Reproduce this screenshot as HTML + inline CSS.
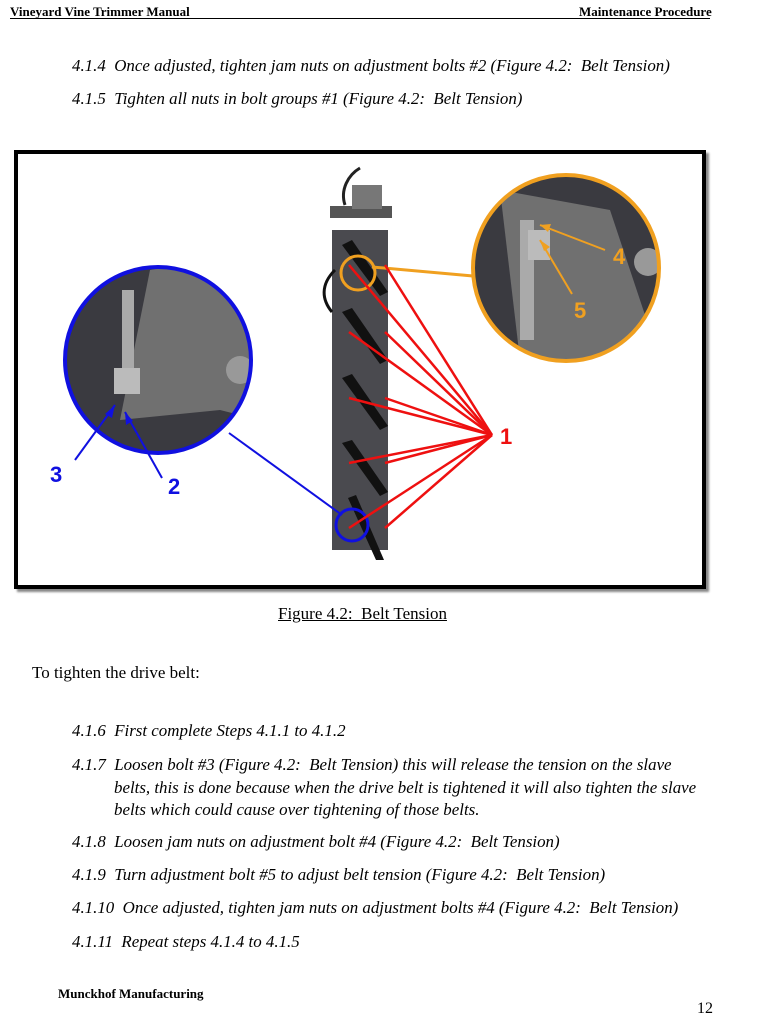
<!DOCTYPE html>
<html><head><meta charset="utf-8"><style>
body{margin:0;width:773px;height:1024px;background:#fff;position:relative;font-family:"Liberation Serif",serif;color:#000;overflow:hidden}
.a{position:absolute;white-space:nowrap}
.i{font-style:italic;font-size:16.9px}
</style></head><body>
<div class="a" style="left:10px;top:4px;font-size:13px;font-weight:bold">Vineyard Vine Trimmer Manual</div>
<div class="a" style="left:579px;top:4px;font-size:13px;font-weight:bold">Maintenance Procedure</div>
<div class="a" style="left:10px;top:18px;width:700px;border-top:1px solid #000"></div>
<div class="a i" style="left:72px;top:56px">4.1.4&nbsp; Once adjusted, tighten jam nuts on adjustment bolts #2 (Figure 4.2:&nbsp; Belt Tension)</div>
<div class="a i" style="left:72px;top:89px">4.1.5&nbsp; Tighten all nuts in bolt groups #1 (Figure 4.2:&nbsp; Belt Tension)</div>
<div class="a" style="left:14px;top:150px;width:684px;height:431px;border:4px solid #000;box-shadow:3px 3px 2px #888"></div>
<svg class="a" style="left:0;top:0" width="773" height="620">
<defs><clipPath id="cl"><circle cx="158" cy="360" r="93"/></clipPath><clipPath id="cr"><circle cx="566" cy="268" r="93"/></clipPath></defs>
<rect x="332" y="230" width="56" height="320" fill="#4a4a4f"/>
<rect x="330" y="206" width="62" height="12" fill="#555"/>
<rect x="352" y="185" width="30" height="24" fill="#777"/>
<path d="M345 205 C340 190 348 175 360 168" stroke="#222" stroke-width="3" fill="none"/>
<path d="M335 270 C320 285 322 300 332 312" stroke="#111" stroke-width="3" fill="none"/>
<g fill="#111">
<path d="M342 245 L352 240 L388 292 L380 296Z"/><path d="M342 312 L352 308 L388 360 L380 364Z"/>
<path d="M342 378 L352 374 L388 426 L380 430Z"/><path d="M342 443 L352 440 L388 492 L380 496Z"/>
<path d="M348 498 L356 495 L384 560 L376 560Z"/></g>
<g clip-path="url(#cl)"><rect x="60" y="260" width="200" height="200" fill="#3a3a40"/>
<path d="M150 270 L260 250 L260 420 L220 410 L120 420Z" fill="#707070"/>
<rect x="122" y="290" width="12" height="80" fill="#aaa"/><rect x="114" y="368" width="26" height="26" fill="#bbb"/>
<circle cx="240" cy="370" r="14" fill="#999"/></g>
<circle cx="158" cy="360" r="93" fill="none" stroke="#1010e0" stroke-width="4"/>
<g clip-path="url(#cr)"><rect x="470" y="170" width="200" height="200" fill="#3a3a40"/>
<path d="M500 190 L610 210 L650 330 L600 360 L520 360Z" fill="#707070"/>
<rect x="520" y="220" width="14" height="120" fill="#aaa"/><rect x="528" y="230" width="22" height="30" fill="#bbb"/>
<circle cx="648" cy="262" r="14" fill="#999"/></g>
<circle cx="566" cy="268" r="93" fill="none" stroke="#f0a020" stroke-width="4"/>
<line x1="372" y1="267" x2="473" y2="276" stroke="#f0a020" stroke-width="3"/>
<circle cx="358" cy="273" r="17" fill="none" stroke="#f0a020" stroke-width="3"/>
<line x1="229" y1="433" x2="342" y2="515" stroke="#1010e0" stroke-width="2"/>
<circle cx="352" cy="525" r="16" fill="none" stroke="#1010e0" stroke-width="3"/>
<g stroke="#ee1010" stroke-width="2.5">
<line x1="349" y1="265" x2="492" y2="435"/><line x1="385" y1="265" x2="492" y2="435"/>
<line x1="349" y1="332" x2="492" y2="435"/><line x1="385" y1="332" x2="492" y2="435"/>
<line x1="349" y1="398" x2="492" y2="435"/><line x1="385" y1="398" x2="492" y2="435"/>
<line x1="349" y1="463" x2="492" y2="435"/><line x1="385" y1="463" x2="492" y2="435"/>
<line x1="349" y1="528" x2="492" y2="435"/><line x1="385" y1="528" x2="492" y2="435"/>
</g>
<g stroke="#1010e0" stroke-width="2"><line x1="75" y1="460" x2="115" y2="405"/><line x1="162" y1="478" x2="125" y2="412"/></g>
<g fill="#1010e0"><path d="M115 405 L105 414 L112 418Z"/><path d="M125 412 L126 425 L133 421Z"/></g>
<g stroke="#f0a020" stroke-width="2"><line x1="605" y1="250" x2="540" y2="225"/><line x1="572" y1="294" x2="540" y2="240"/></g>
<g fill="#f0a020"><path d="M540 225 L551 224 L548 232Z"/><path d="M540 240 L550 247 L544 251Z"/></g>
<g font-family="Liberation Sans" font-weight="bold" font-size="22">
<text x="500" y="444" fill="#ee1010">1</text>
<text x="50" y="482" fill="#1010e0">3</text><text x="168" y="494" fill="#1010e0">2</text>
<text x="613" y="264" fill="#f0a020">4</text><text x="574" y="318" fill="#f0a020">5</text></g>
</svg>
<div class="a" style="left:278px;top:604px;font-size:17px;text-decoration:underline">Figure 4.2:&nbsp; Belt Tension</div>
<div class="a" style="left:32px;top:663px;font-size:17px">To tighten the drive belt:</div>
<div class="a i" style="left:72px;top:721px">4.1.6&nbsp; First complete Steps 4.1.1 to 4.1.2</div>
<div class="a i" style="left:72px;top:755px">4.1.7&nbsp; Loosen bolt #3 (Figure 4.2:&nbsp; Belt Tension) this will release the tension on the slave</div>
<div class="a i" style="left:114px;top:778px">belts, this is done because when the drive belt is tightened it will also tighten the slave</div>
<div class="a i" style="left:114px;top:800px">belts which could cause over tightening of those belts.</div>
<div class="a i" style="left:72px;top:832px">4.1.8&nbsp; Loosen jam nuts on adjustment bolt #4 (Figure 4.2:&nbsp; Belt Tension)</div>
<div class="a i" style="left:72px;top:865px">4.1.9&nbsp; Turn adjustment bolt #5 to adjust belt tension (Figure 4.2:&nbsp; Belt Tension)</div>
<div class="a i" style="left:72px;top:898px">4.1.10&nbsp; Once adjusted, tighten jam nuts on adjustment bolts #4 (Figure 4.2:&nbsp; Belt Tension)</div>
<div class="a i" style="left:72px;top:932px">4.1.11&nbsp; Repeat steps 4.1.4 to 4.1.5</div>
<div class="a" style="left:58px;top:986px;font-size:13px;font-weight:bold">Munckhof Manufacturing</div>
<div class="a" style="left:697px;top:1000px;font-size:16px">12</div>
</body></html>
